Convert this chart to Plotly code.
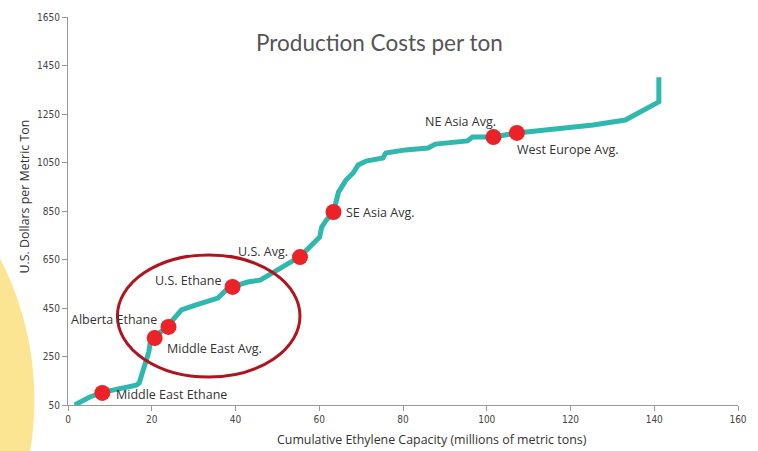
import plotly.graph_objects as go

# Cumulative ethylene capacity (millions of metric tons) vs. cash cost (US$/t)
capacity = [1.6, 5.2, 8.7, 12.5, 16.3, 17.0, 18.1, 18.6, 19.3, 19.8, 20.7, 23.8, 27.1, 30.4,
            32.8, 35.8, 38.2, 39.3, 42.9, 45.9, 49.2, 51.6, 55.4, 58.2, 60.1, 60.6, 61.7,
            63.4, 64.6, 66.4, 68.1, 69.3, 71.2, 75.2, 75.9, 80.6, 86.0, 87.7, 95.4, 96.6,
            101.6, 107.2, 113.6, 125.4, 133.1, 137.8, 141.1, 141.1]
cost = [50, 83, 104, 118, 132, 141, 203, 227, 269, 326, 330, 376, 442, 462,
        475, 491, 532, 537, 557, 565, 598, 627, 662, 710, 743, 784, 813,
        846, 928, 978, 1007, 1040, 1056, 1069, 1089, 1102, 1110, 1126, 1139, 1155,
        1155, 1172, 1184, 1205, 1225, 1266, 1300, 1402]

# Regional reference points on the curve
region_names = ["Middle East Ethane", "Middle East Avg.", "Alberta Ethane", "U.S. Ethane",
                "U.S. Avg.", "SE Asia Avg.", "NE Asia Avg.", "West Europe Avg."]
region_capacity = [8.2, 20.7, 24.0, 39.3, 55.4, 63.4, 101.6, 107.2]
region_cost = [100, 326, 372, 537, 660, 846, 1155, 1172]

x_ticks = [0, 20, 40, 60, 80, 100, 120, 140, 160]
y_ticks = [50, 250, 450, 650, 850, 1050, 1250, 1450, 1650]

# label placement: (xanchor, xshift, yshift)
label_pos = [("left", 12, -2), ("left", 10, -10), ("right", -10, 7), ("right", -10, 6),
             ("right", -10, 6), ("left", 11, -1), ("right", 5, 16), ("left", -2, -17)]

fig = go.Figure()

fig.add_trace(go.Scatter(
    x=capacity, y=cost, mode="lines",
    line=dict(color="#2fb8ad", width=5),
    hoverinfo="skip", showlegend=False,
))

fig.add_trace(go.Scatter(
    x=region_capacity, y=region_cost, mode="markers",
    marker=dict(color="#ec2229", size=16, line=dict(width=0)),
    text=region_names, hoverinfo="text", showlegend=False,
))

label_font = dict(family="Open Sans, Arial, sans-serif", size=12.5, color="#333333")
for name, xv, yv, (anc, dx, dy) in zip(region_names, region_capacity, region_cost, label_pos):
    fig.add_annotation(x=xv, y=yv, text=name, showarrow=False, xanchor=anc,
                       yanchor="middle", xshift=dx, yshift=dy, font=label_font)

# Highlight ellipse around the ethane-advantaged producers
fig.add_shape(type="circle", xref="x", yref="y", x0=11.8, x1=55.4, y0=165, y1=669,
              line=dict(color="#b0141c", width=3), fillcolor="rgba(0,0,0,0)")

# Decorative yellow disc at the left edge
W, H = 679.0, 388.0
cx, cy, r = -271.0, 400.0, 305.0
fig.add_shape(type="circle", xref="paper", yref="paper", layer="below",
              x0=(cx - r - 68) / W, x1=(cx + r - 68) / W,
              y0=(405 - (cy + r)) / H, y1=(405 - (cy - r)) / H,
              line=dict(width=0), fillcolor="#fbe593")

fig.add_annotation(xref="paper", yref="paper", x=(384 - 68) / W, y=(405 - 43) / H,
                   text="Production Costs per ton", showarrow=False,
                   xanchor="center", yanchor="middle",
                   font=dict(family="Lato, Noto Sans, sans-serif", size=22.5, color="#555555"))

title_font = dict(family="Open Sans, Arial, sans-serif", size=12.4, color="#333333")
fig.add_annotation(xref="paper", yref="paper", x=(437 - 68) / W, y=(405 - 440) / H,
                   text="Cumulative Ethylene Capacity (millions of metric tons)",
                   showarrow=False, xanchor="center", yanchor="middle", font=title_font)
fig.add_annotation(xref="paper", yref="paper", x=(23 - 68) / W, y=(405 - 197) / H,
                   text="U.S. Dollars per Metric Ton", textangle=-90,
                   showarrow=False, xanchor="center", yanchor="middle", font=title_font)

tick_font = dict(family="Liberation Sans Narrow, DejaVu Sans Condensed, Arial, sans-serif",
                 size=10, color="#444444")

fig.update_xaxes(range=[0, 160], tickvals=x_ticks, ticks="outside", ticklen=5,
                 tickcolor="#999999", showline=True, linecolor="#999999", linewidth=1,
                 showgrid=False, zeroline=False, tickfont=tick_font)
fig.update_yaxes(range=[50, 1650], tickvals=y_ticks, ticks="outside", ticklen=5,
                 tickcolor="#999999", showline=True, linecolor="#999999", linewidth=1,
                 showgrid=False, zeroline=False, tickfont=tick_font)

fig.update_layout(
    width=758, height=451,
    margin=dict(l=68, r=11, t=17, b=46),
    paper_bgcolor="white", plot_bgcolor="rgba(0,0,0,0)",
    showlegend=False,
)

fig.write_html("out.html")
